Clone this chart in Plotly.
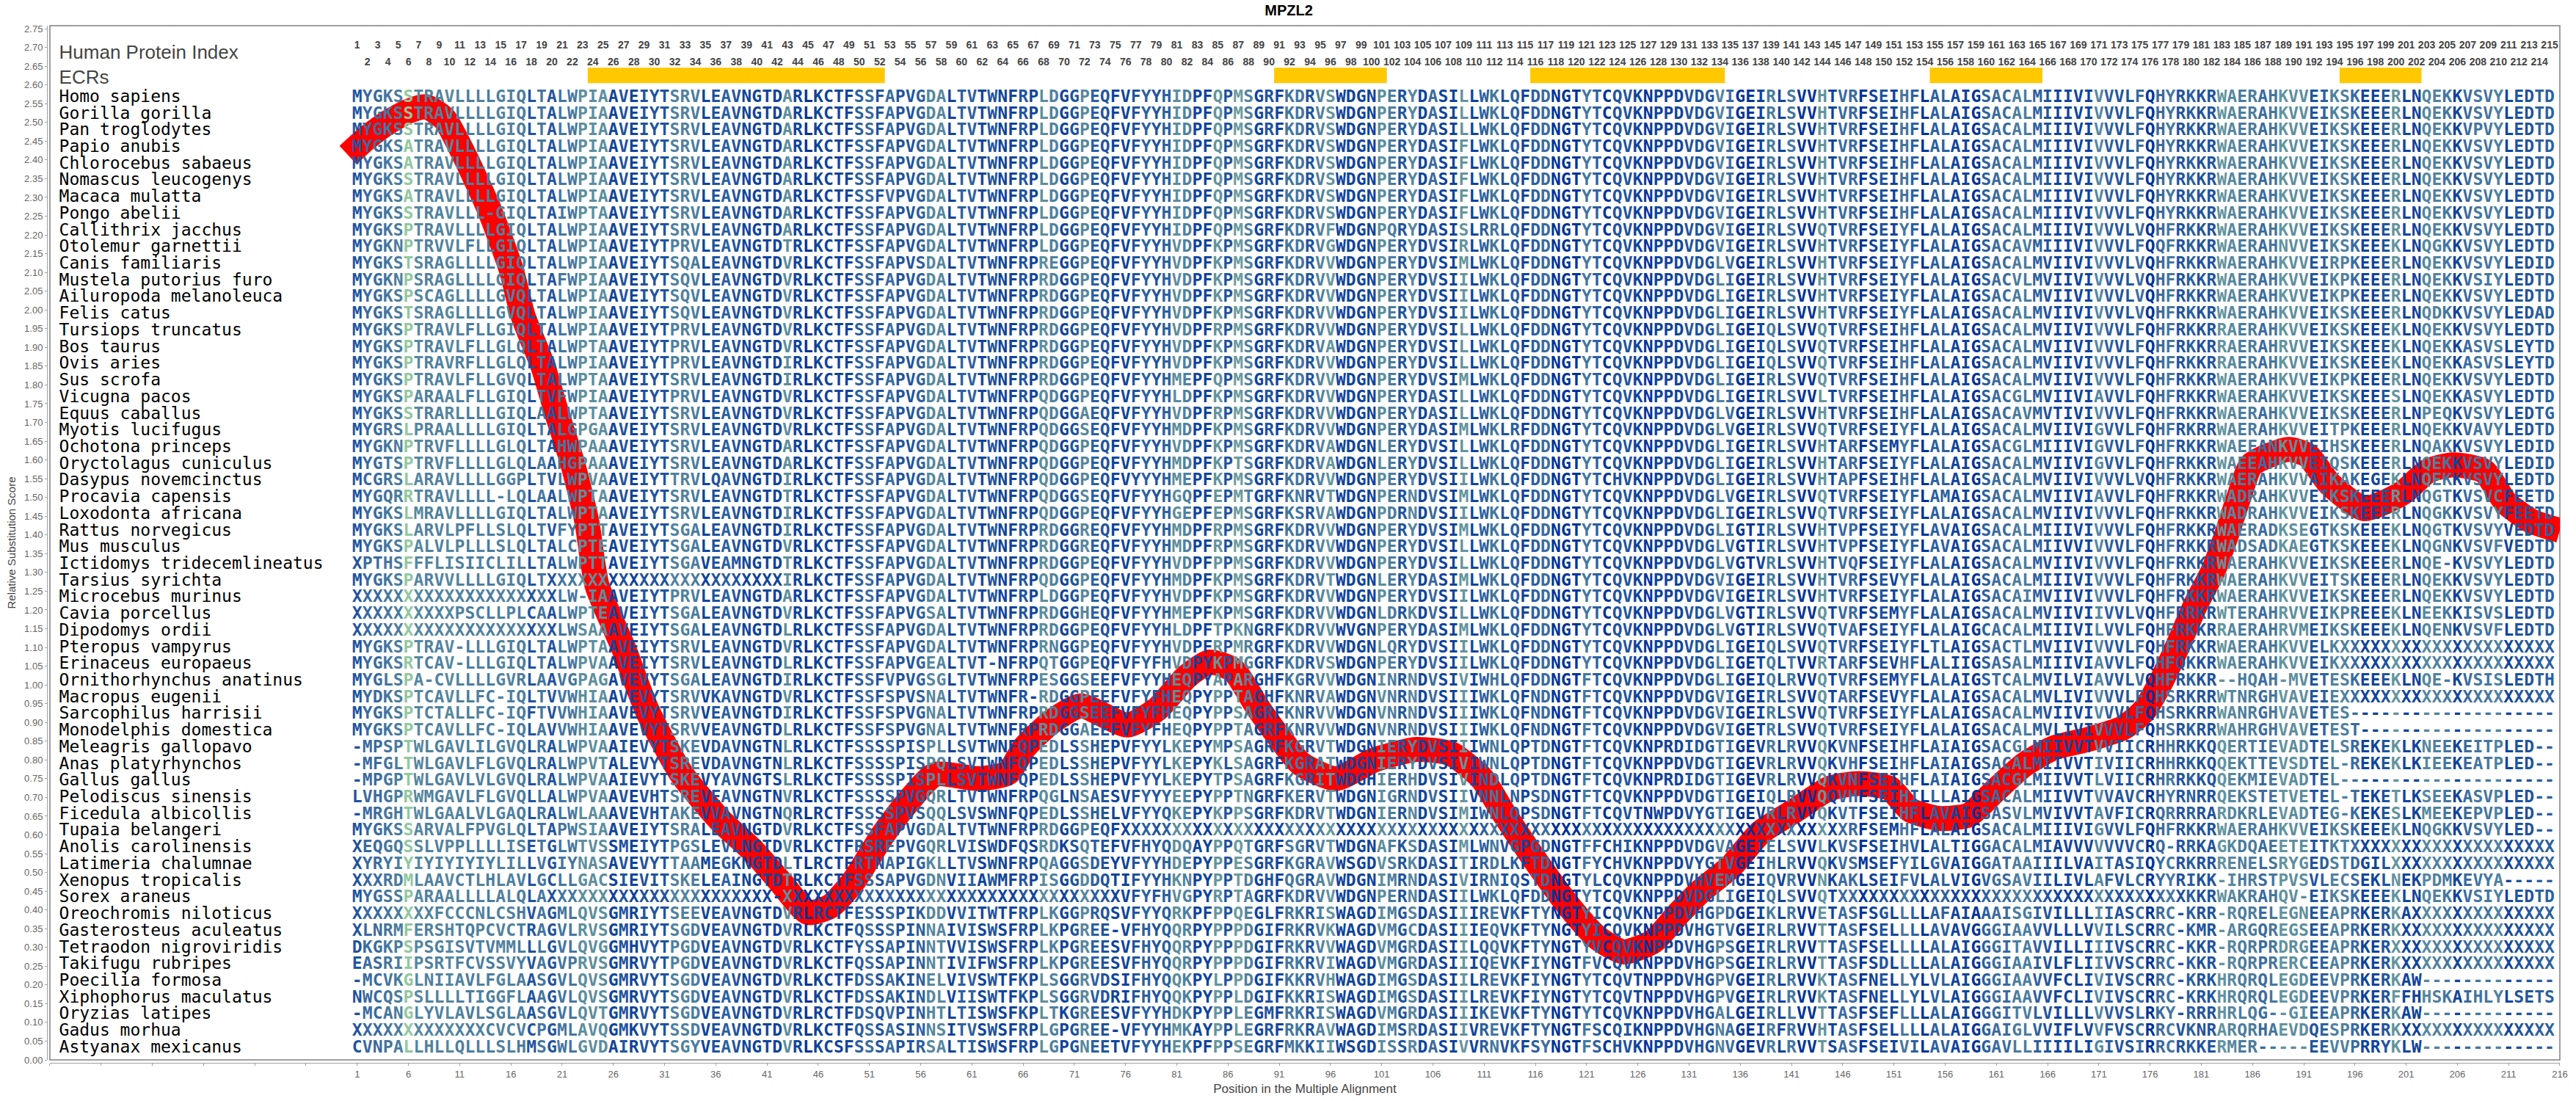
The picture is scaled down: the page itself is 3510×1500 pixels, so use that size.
"""MPZL2 multiple alignment with the relative substitution score drawn over it."""

import plotly.graph_objects as go

# === 資料 ===
SPECIES = [
    "Homo sapiens", "Gorilla gorilla", "Pan troglodytes", "Papio anubis", "Chlorocebus sabaeus",
    "Nomascus leucogenys", "Macaca mulatta", "Pongo abelii", "Callithrix jacchus", "Otolemur garnettii",
    "Canis familiaris", "Mustela putorius furo", "Ailuropoda melanoleuca", "Felis catus", "Tursiops truncatus",
    "Bos taurus", "Ovis aries", "Sus scrofa", "Vicugna pacos", "Equus caballus",
    "Myotis lucifugus", "Ochotona princeps", "Oryctolagus cuniculus", "Dasypus novemcinctus", "Procavia capensis",
    "Loxodonta africana", "Rattus norvegicus", "Mus musculus", "Ictidomys tridecemlineatus", "Tarsius syrichta",
    "Microcebus murinus", "Cavia porcellus", "Dipodomys ordii", "Pteropus vampyrus", "Erinaceus europaeus",
    "Ornithorhynchus anatinus", "Macropus eugenii", "Sarcophilus harrisii", "Monodelphis domestica", "Meleagris gallopavo",
    "Anas platyrhynchos", "Gallus gallus", "Pelodiscus sinensis", "Ficedula albicollis", "Tupaia belangeri",
    "Anolis carolinensis", "Latimeria chalumnae", "Xenopus tropicalis", "Sorex araneus", "Oreochromis niloticus",
    "Gasterosteus aculeatus", "Tetraodon nigroviridis", "Takifugu rubripes", "Poecilia formosa", "Xiphophorus maculatus",
    "Oryzias latipes", "Gadus morhua", "Astyanax mexicanus",
]

# columns 1-22
SEQ_HEAD = [
    "MYGKSSTRAVLLLLGIQLTALW", "MYGKSSTRAVLLLLGIQLTALW", "MYGKSSTRAVLLLLGIQLTALW", "MYGKSATRAVLLLLGIQLTALW",
    "MYGKSATRAVLLLLGIQLTALW", "MYGKSSTRAVLLLLGIQLTALW", "MYGKSATRAVLLLLGIQLTALW", "MYGKSSTRAVLLL-GIQLTAIW",
    "MYGKSPTRAVLLLLGIQLTALW", "MYGKNPTRVVLFLLGIQLTALW", "MYGKSTSRAGLLLLGIQLTALW", "MYGKNPSRAGLLLLGIQLTAFW",
    "MYGKSPSCAGLLLLGVQLTALW", "MYGKSTSRAGLLLLGVQLTALW", "MYGKSPTRAVLFLLGIQLTALW", "MYGKSPTRAVLFLLGLQLTALW",
    "MYGKSPTRAVRFLLGLQLTALW", "MYGKSPTRAVLFLLGVQLTALW", "MYGKSPARAALFLLGIQLTVFW", "MYGKSSTRARLLLLGIQLAALW",
    "MYGRSLPRAALLLLGIQLTALG", "MYGKNPTRVFLLLLGLQLTAHW", "MYGTSPTRVFLLLLGLQLAAHG", "MCGRSLARAVLLLLGGPLTVLW",
    "MYGQRRTRAVLLLL-LQLAALW", "MYGKSLMRAVLLLLGIQLTALW", "MYGKSLARVLPFLLSLQLTVFY", "MYGKSPALVLPLLLSLQLTALC",
    "XPTHSFFFLISIICLILLTALW", "MYGKSPARVVLLLLGIQLTXXX", "X" * 20 + "LW", "X" * 10 + "PSCLLPLCAALW",
    "X" * 20 + "LW", "MYGKSPTRAV-LLLGIQLTALW", "MYGKSRTCAV-LLLGIQLTALW", "MYGLSPA-CVLLLLGVRLAAVG",
    "MYDKSPTCAVLLFC-IQLTVVW", "MYGKSPTCTALLFC-IQFTVVW", "MYGKSPTCAVLLFC-IQLAVVW", "-MPSPTWLGAVLILGVQLRALW",
    "-MFGLTWLGAVLFLGVQLRALW", "-MPGPTWLGAVLVLGVQLRALW", "LVHGPRWMGAVLFLGVQLLALW", "-MRGHTWLGAALVLGAQLRALW",
    "MYGKSSARVALFPVGLQLTAPW", "XEQGQSSLVPPLLLLISETGLW", "XYRYIYIYIYIYIYLILLVGIY", "XXXRDMLAAVCTLHLAVLGCLL",
    "MYGSSPARAALLLLALQLAXXX", "XXXXXXXXFCCCNLCSHVAGML", "XLNRMFERSHTQPCVCTRAGVL", "DKGKPSPSGISVTVMMLLLGVL",
    "EASRIIPSRTFCVSSVYVAGVP", "-MCVKGLNIIAVLFGLAASGVL", "NWCQSPSLLLLTIGGFLAAGVL", "-MCANGLYVLAVLSGLAASGVL",
    "X" * 13 + "CVCVCPGML", "CVNPALLHLLQLLLSLHMSGWL",
]

# columns 23-86
SEQ_LEFT = [
    "PIAAVEIYTSRVLEAVNGTDARLKCTFSSFAPVGDALTVTWNFRPLDGGPEQFVFYYHIDPFQP",
    "PIAAVEIYTSRVLEAVNGTDARLKCTFSSFAPVGDALTVTWNFRPLDGGPEQFVFYYHIDPFQP",
    "PIAAVEIYTSRVLEAVNGTDARLKCTFSSFAPVGDALTVTWNFRPLDGGPEQFVFYYHIDPFQP",
    "PIAAVEIYTSRVLEAVNGTDARLKCTFSSFAPVGDALTVTWNFRPLDGGPEQFVFYYHIDPFQP",
    "PIAAVEIYTSRVLEAVNGTDARLKCTFSSFAPVGDALTVTWNFRPLDGGPEQFVFYYHIDPFQP",
    "PIAAVEIYTSRVLEAVNGTDARLKCTFSSFAPVGDALTVTWNFRPLDGGPEQFVFYYHIDPFQP",
    "PIAAVEIYTSRVLEAVNGTDARLKCTFSSFVPVGDALTVTWNFRPLDGGPEQFVFYYHIDPFQP",
    "PTAAVEIYTSRVLEAVNGTDARLKCTFSSFAPVGDALTVTWNFRPLDGGPEQFVFYYHIDPFQP",
    "PIAAVEIYTSRVLEAVNGTDARLKCTFSSFAPVGDALTVTWNFRPLDGGPEQFVFYYHIDPFQP",
    "PIAAVEIYTPRVLEAVNGTDTRLKCTFSSFAPVGDALTVTWNFRPLDGGPEQFVFYYHVDPFKP",
    "PIAAVEIYTSQALEAVNGTDVRLKCTFSSFAPVSDALTVTWNFRPREGGPEQFVFYYHVDPFKP",
    "PIAAVEIYTSQVLEAVNGTDVRLKCTFSSFAPVGDALTVTWNFRPRDGGPEQFVFYYHVDPFKP",
    "PIAAVEIYTSQVLEAVNGTDVRLKCTFSSFAPVGDALTVTWNFRPRDGGPEQFVFYYHVDPFKP",
    "PIAAVEIYTSQVLEAVNGTDVRLKCTFSSFAPVGDALTVTWNFRPRDGGPEQFVFYYHVDPFKP",
    "PIAAVEIYTPRVLEAVNGTDVRLKCTFSSFAPVGDALTVTWNFRPRDGGPEQFVFYYHVDPFRP",
    "PTAAVEIYTPRVLEAVNGTDVRLKCTFSSFAPVGDALTVTWNFRPRDGGPEQFVFYYHVDPFKP",
    "PIAAVEIYTPRVLEAVNGTDIRLKCTFSSFAPVGDALTVTWNFRPRDGGPEQFVFYYHVDPFKP",
    "PTAAVEIYTSRVLEAVNGTDIRLKCTFSSFAPVGDALTVTWNFRPRDGGPEQFVFYYHMEPFQP",
    "PIAAVEIYTPRVLEAVNGTDVRLKCTFSSFAPVGDALTVTWNFRPQDGGPEQFVFYYHLDPFKP",
    "PTAAVEIYTSRVLEAVNGTDVRLKCTFSSFAPVGDALTVTWNFRPQDGGAEQFVFYYHVDPFRP",
    "PGAAVEIYTSRVLEAVNGTDVRLKCTFSSFAPVGDALTVTWNFRPQDGGSEQFVFYYHMDPFKP",
    "PAAAVEIYTSRVLEAVNGTDARLKCTFSSFAPVGDALTVTWNFRPQDGGPEQFVFYYHVDPFKP",
    "PAAAVEIYTSRVLEAVNGTDARLKCTFSSFAPVGDALTVTWNFRPQDGGPEQFVFYYHMDPFKP",
    "PVAAVEIYTTRVLQAVNGTDIRLKCTFSSFAPVGDALTVTWNFRPQDGGPEQFVYYYHMEPFKP",
    "PTAAVEIYTSRVLEAVNGTDTRLKCTFSSFAPVGDALTVTWNFRPQDGGSEQFVFYYHGQPFEP",
    "PTAAVEIYTSRVLEAVNGTDIRLKCTFSSFAPVGDALTVTWNFRPQDGGPEQFVFYYHGEPFEP",
    "PTTAVEIYTSGALEAVNGTDIRLKCTFSSFAPVGDALTVTWNFRPRDGGREQFVFYYHMDPFRP",
    "PTEAVEIYTSGALEAVNGTDVRLKCTFSSFAPVGDALTVTWNFRPRDGGREQFVFYYHMDPFRP",
    "PTTAVEIYTSGAVEAMNGTDTRLKCTFSSFAPVGDALTVTWNFRPRDGGPEQFVFYYHVDPFPP",
    "X" * 20 + "IRLKCTFSSFAPVGDALTVTWNFRPQDGGPEQFVFYYHMDPFKP",
    "-IAAVEIYTPRVLEAVNGTDARLKCTFSSFAPVGDALTVTWNFRPLDGGPEQFVFYYHVDPFKP",
    "PTEAVEIYTSGALEAVNGTDVRLKCTFSSFAPVGSALTVTWNFRPRDGGHEQFVFYYHMEPFKP",
    "SAAAVEIYTSGALEAVNGTDLRLKCTFSSFAPVGDALTVTWNFRPRDGGPEQFVFYYHLDPFTP",
    "PTAAVEIYTSRVLEAVNGTDVRLKCTFSSFAPVGDALTVTWNFRPRNGGPEQFVFYYHVDPFRP",
    "PVAAVEIYTSRVLEAVNGTDLRLKCTFSSFAPVGEALTVT-NFRPQTGGPEQFVFYFHVDPYKP",
    "PAGAVEVYTSGALEAVNGTDIRLKCTFSSFVPVGSGLTVTWNFRPESGGSEEFVFYYHEQPYAP",
    "HIAAVEVYTSRVVKAVNGTDVRLKCTFSSFSPVSNALTVTWNFR-RDGGPEEFVFYFHEQPYPP",
    "HIAAVEVYTSRVVEAVNGTDIRLKCTFSSFSPVGNALTVTWNFRPRDGGSEEFVFYFHEQPYPP",
    "HIAAVEVYTSRVVEAVNGTDLRLKCTFSSFSPVGNALTVTWNFRPRDGGAEEFVFYFHEQPYPP",
    "PVAAIEVYTSKEVDAVNGTNLRLKCTFSSSSPISPLLSVTWNFQPEDLSSHEPVFYYLKEPYMP",
    "PVTALEVYTSREVDAVNGTNLRLKCTFSSSSPISPQLSVTWNFQPEDLSSHEPVFYYLKEPYKL",
    "PVAAIEVYTSKEVYAVNGTSLRLKCTFSSSSPISPLLSVTWNFQPEDLSSHEPVFYYLKEPYTP",
    "PVAAVEVHTSREVEAVNGTNVRLKCTFSSSSPVGQRLTVTWNFRPQGLNSAESVFYYYEEPYPP",
    "LAAAVEVHTAKEVVAVNGTNQRLRCTFSSSSPVSQQLSVSWNFQPEDLSSHELVFYYQKEPYKP",
    "SIAAVEIYTSRALEAVNGTDVRLKCTFSSFAPVGDALTVTWNFRPRDGGPEQF" + "X" * 11,
    "TVSSMEIYTPGSLEVLNGTDVRLKCTFRSREPVGQRLVISWDFQSRDKSQTEFVFHYQDQAYPP",
    "NASAVEVYTTAAMEGKNGTDLTLRCTFRTNAPIGKLLTVSWNFRPQAGGSDEYVFYYHDEPYPP",
    "GACSIEVITSKELEAINGTDTRLKCTFSSSAPVGDNVIIAWMFRPISGGDDQTIFYYHKNPYPP",
    "X" * 19 + "-" + "X" * 33 + "VFYFHVGPYRP",
    "QVSGMRIYTSEEVEAVNGTDVRLRCTFESSSPIKDDVVITWTFRPLKGGPRQSVFYYQRKPFPP",
    "RVSGMRIYTSGDVEAVNGTDVRLKCTFQSSSPINNAIVISWSFRPLKPGREE-VFHYQQRPYPP",
    "QVGGMHVYTPGDVEAVNGTDVRLKCTFYSSAPINNTVVISWSFRPLKPGREESVFHYQQRPYPP",
    "RVSGMRVYTPGDVEAVNGTDVRLKCTFQSSAPINNTIVIFWSFRPLKPGREESVFHYQQRPYPP",
    "QVSGMRVYTSGDVEAVNGTDVRLKCTFDSSAKINELVIVSWTFKPLSGGRVDSIFHYQQKPYLP",
    "QVSGMRVYTSGDVEAVNGTDVRLKCTFDSSAKINDLVIISWTFKPLSGGRVDRIFHYQQKPYPP",
    "QVTGMRVYTSGDVEAVNGTDVRLRCTFDSQVPINHTLTISWSFKPLTKGREESVFYYHDKPYPP",
    "AVQGMKVYTSSDVEAVNGTDVRLKCTFQSSASINNSITVSWSFRPLGPGREE-VFYYHMKAYPP",
    "GVDAIRVYTSGYVEAVNGTDVRLKCSFSSSAPIRSALTISWSFRPLGPGNEETVFYYHEKPFPP",
]

# columns 87-150
SEQ_RIGHT = [
    "MSGRFKDRVSWDGNPERYDASILLWKLQFDDNGTYTCQVKNPPDVDGVIGEIRLSVVHTVRFSE",
    "MSGRFKDRVSWDGNPERYDASILLWKLQFDDNGTYTCQVKNPPDVDGVIGEIRLSVVHTVRFSE",
    "MSGRFKDRVSWDGNPERYDASILLWKLQFDDNGTYTCQVKNPPDVDGVIGEIRLSVVHTVRFSE",
    "MSGRFKDRVSWDGNPERYDASIFLWKLQFDDNGTYTCQVKNPPDVDGVIGEIRLSVVHTVRFSE",
    "MSGRFKDRVSWDGNPERYDASIFLWKLQFDDNGTYTCQVKNPPDVDGVIGEIRLSVVHTVRFSE",
    "MSGRFKDRVSWDGNPERYDASIFLWKLQFDDNGTYTCQVKNPPDVDGVIGEIRLSVVHTVRFSE",
    "MSGRFKDRVSWDGNPERYDASIFLWKLQFDDNGTYTCQVKNPPDVDGVIGEIRLSVVHTVRFSE",
    "MSGRFKDRVSWDGNPERYDASIFLWKLQFDDNGTYTCQVKNPPDVDGVIGEIRLSVVHTVRFSE",
    "MSGRFKDRVFWDGNPQRYDASISLRRLQFDDNGTYTCQVKNPPDVDGVIGEIRLSVVQTVRFSE",
    "MSGRFKDRVGWDGNPERYDVSIRLWKLQFDDNGTYTCQVKNPPDVDGVIGEIRLSVVHTVRFSE",
    "MSGRFKDRVVWDGNPERYDVSIMLWKLQFDDNGTYTCQVKNPPDVDGLVGEIRLSVVHTVRFSE",
    "MSGRFKDRVVWDGNPERYDVSIILWKLQFDDNGTYTCQVKNPPDVDGLIGEIRLSVVHTVRFSE",
    "MSGRFKDRVVWDGNPERYDVSIILWKLQFDDNGTYTCQVKNPPDVDGLIGEIRLSVVHTVRFSE",
    "MSGRFKDRVVWDGNPERYDVSIILWKLQFDDNGTYTCQVKNPPDVDGLIGEIRLSVVHTVRFSE",
    "MSGRFKDRVVWDGNPERYDVSILLWKLQFDDNGTYTCQVKNPPDVDGLIGEIQLSVVQTVRFSE",
    "MSGRFKDRVAWDGNPERYDVSILLWKLQFDDNGTYTCQVKNPPDVDGLIGEIQLSVVQTVRFSE",
    "MSGRFKDRVVWDGNPERYDVSILLWKLQFDDNGTYTCQVKNPPDVDGLIGEIQLSVVQTVRFSE",
    "MSGRFKDRVVWDGNPERYDVSIMLWKLQFDDNGTYTCQVKNPPDVDGLIGEIRLSVVQTVRFSE",
    "MSGRFKDRVVWDGNPERYDASILLWKLQFDDNGTYTCQVKNPPDVDGLIGEIRLSVVLTVRFSE",
    "MSGRFKDRVVWDGNPERYDASILLWKLQFDDNGTYTCQVKNPPDVDGLVGEIRLSVVHTVRFSE",
    "MSGRFKDRVVWDGNPERYDASIMLWKLRFDDNGTYTCQVKNPPDVDGLVGEIRLSVVQTVRFSE",
    "MSGRFKDRVAWDGNLERYDVSILLWKLQFDDNGTYTCQVKNPPDVDGLIGEIRLSVVHTARFSE",
    "TSGRFKDRVAWDGNLERYDVSILLWKLQFDDNGTYTCQVKNPPDVDGLIGEIRLSVVHTARFSE",
    "MSGRFKDRVVWDGNPERYDVSIILWKLQFDDNGTYTCHVKNPPDVDGLIGEIRLSVVHTAPFSE",
    "MTGRFKNRVTWDGNPERNDVSIMLWKLQFDDNGTYTCQVKNPPDVDGLVGEIRLSVVQTVRFSE",
    "MSGRFKSRVAWDGNPDRNDVSIILWKLQFDDNGTYTCQVKNPPDVDGLIGEIRLSVVQTVRFSE",
    "MSGRFKDRVVWDGNPERYDVSIMLWKLQFDDNGTYTCQVKNPPDVDGLIGTIRLSVVHTVPFSE",
    "MSGRFKDRVVWDGNPERYDVSILLWKLQFDDNGTYTCQVKNPPDVDGLVGTIRLSVVHTVPFSE",
    "MSGRFKDRVVWDGNPERYDVSILLWKLQFDDNGTYTCQVKNPPDVDGLVGTVRLSVVHTVQFSE",
    "MSGRFKDRVTWDGNLERYDASIMLWKLQFDDNGTYTCQVKNPPDVDGVIGEIRLSVVHTVRFSE",
    "MSGRFKDRVVWDGNPERYDVSIILWKLQFDDNGTYTCQVKNPPDVDGVIGEIRLSVVHTVRFSE",
    "MSGRFKDRVVWDGNLDRKDVSILLWKLQFDDNGTYTCQVKNPPDVDGLVGTIRLSVVQTVRFSE",
    "KNGRFKDRVVWVGNPERYDASIMLWKLQFDDNGTYTCQVKNPPDVDGLVGTIRLSVVQTVAFSE",
    "MRGRFKDRVVWDGNLQRYDVSIILWKLQFDDNGTYTCQVKNPPDVDGLIGEIQLSVVQTVRFSE",
    "MGGRFKDRVSWDGNPERYDVSIILWKLQFDDNGTYTCQVKNPPDVDGLIGETQLTVVRTARFSE",
    "ARGHFKGRVVWDGNINRNDVSIVIWHLQFDDNGTFTCQVKNPPDVDGLIGEIQLRVVQTVRFSE",
    "TAGHFKNRVAWDGNVNRNDVSIIIWKLQFNDNGTFTCQVKNPPDVDGVIGEIRLSVVQTARFSE",
    "SAGRFKNRVVWDGNVNRNDVSIIIWKLQFNDNGTFTCQVKNPPDVDGVIGEIRLSVVQTVRFSE",
    "TAGRFKNRVVWDGNVNRNDVSIIIWKLQFNDNGTFTCQVKNPPDVDGVIGETRLSVVQTVRFSE",
    "SAGRFKGRVTWDGNIERYDVSIIIWNLQPTDNGTFTCQVKNPRDIDGTIGEVRLRVVQKVNFSE",
    "SAGRFKGRATWDGNIERYDVSIVIWNLQPTDNGTFTCQVKNPPDVDGTIGEVRLRVVQKVHFSE",
    "SAGRFKGRITWDGHIERHDVSIVINDLQPTDNGTFTCQVKNPRDIDGTIGEVRLRVVQKVNFSE",
    "TNGRFKERVTWDGNIGRNDVSIIVNNLNPSDNGTFTCQVKNPPDVDGTIGEIQLRVVQQVHFSE",
    "PSGRFKDRVTWDGNIERNDVSIMIWNLQPSDNGTFTCQVTNWPDVYGTIGEVRLRVVQKVTFSE",
    "X" * 60 + "RFSE",
    "QTGRFSGRVTWDGNAFKSDASIMLWNVGPGDNGTFFCHIKNPPDVDGVAGEIELSVVLKVSFSE",
    "ESGRFKGRAVWSGDVSRKDASITIRDLKFTDNGTFYCHVKNPPDVYGTVGEIHLRVVQKVSMSE",
    "TDGHFQGRAVWDGNIMRNDASIVIRNIQSTDNGTYLCQVKNPPDVHVEMGEIQVRVVNKAKLSE",
    "TAGRFKDRVVWDGNPERNDASIILWKLQFDDNGTYTCQVKNPPDVDGLIGEIQLSVVQT" + "X" * 5,
    "QEGLFRKRISWAGDIMGSDASIIIREVKFTYNGTYICQVKNPPDVHGPDGEIKLRVVETASFSG",
    "PDGIFRKRVKWAGDVMGCDASIIIEQVKFTYNGTYICQVKNPPDVHGTVGEIRLRVVTTASFSE",
    "PDGIFRKRVVWAGDVMGRDASIILQQVKFTYNGTYVCQVKNPPDVHGPSGEIRLRVVTTASFSE",
    "PDGIFRKRVIWAGDVMGRDASIIIQEVKFIYNGTFVCQVKNPPDVHGPSGEIRLRVVTTASFSD",
    "PDGIFKKRVHWAGDIMGSDASIILREVKFIYNGTYTCQVTNPPDVHGPVGEIRLRVVKTASFNE",
    "LDGIFKKRISWAGDIMGSDASIILREVKFIYNGTYTCQVTNPPDVHGPVGEIRLRVVKTASFNE",
    "LEGMFRKRISWAGDVMGRDASIIIKEVKFTYNGTYTCQVKNPPDVHGALGEIRLLVVTTASFSE",
    "LEGRFRKRAVWAGDIMSRDASIIVREVKFTYNGTFSCQIKNPPDVHGNAGEIRFRVVHTASFSE",
    "SEGRFMKKIIWSGDISSRDASIVVRNVKFSYNGTFSCHVKNPPDVHGNVGEVRLRVVTSASFSE",
]

# columns 151-215
SEQ_TAIL = [
    "IHFLALAIGSACALMIIIVIVVVLFQHYRKKRWAERAHKVVEIKSKEEERLNQEKKVSVYLEDTD",
    "IHFLALAIGSACALMIIIVIVVVLFQHYRKKRWAERAHKVVEIKSKEEERLNQEKKVSVYLEDTD",
    "IHFLALAIGSACALMIIIVIVVVLFQHYRKKRWAERAHKVVEIKSKEEERLNQEKKVPVYLEDTD",
    "IHFLALAIGSACALMIIIVIVVVLFQHYRKKRWAERAHKVVEIKSKEEERLNQEKKVSVYLEDTD",
    "IHFLALAIGSACALMIIIVIVVVLFQHYRKKRWAERAHKVVEIKSKEEERLNQEKKVSVYLEDTD",
    "IHFLALAIGSACALMIIIVIVVVLFQHYRKKRWAERAHKVVEIKSKEEERLNQEKKVSVYLEDTD",
    "IHFLALAIGSACALMIIIVIVVVLFQHYRKKRWAERAHKVVEIKSKEEERLNQEKKVSVYLEDTD",
    "IHFLALAIGSACALMIIIVIVVVLFQHYRKKRWAERAHKVVEIKSKEEERLNQEKKVSVYLEDTD",
    "IYFLALAIGSACALMIIIVIVVVLVQHFRKKRWAERAHKVVEIKSKEEERLNQEKKVSVYLEDTD",
    "IYFLALAIGSACAVMIIIVIVVVLFQQFRKKRWAERAHNVVEIKSKEEEKLNQGKKVSVYLEDTD",
    "IYFLALAIGSACALMVIIVIVVVLVQHFRKKRWAERAHKVVEIRPKEEERLNQEKKVSVYLEDID",
    "IYFLALAIGSACVLMVIIVIVVVLVQHFRKKRWAERAHKVVEIKPKEEERLNQEKKVSIYLEDTD",
    "IYFLALAIGSACALMVIIVIVVVLVQHFRKKRWAERAHKVVEIKPKEEERLNQEKKVSVYLEDTD",
    "IYFLALAIGSACALMVIIVIVVVLVQHFRKKRWAERAHKVVEIKSKEEERLNQDKKVSVYLEDAD",
    "IHFLALAIGSACALMVIIVIVVVLFQHFRKKRRAERAHKVVEIKSKEEEKLNQEKKVSVYLEDTD",
    "IHFLALAIGSACALMVIIVIVVVLFQHFRKKRRAERAHRVVEIKSKEEEKLNQEKKASVSLEYTD",
    "IHFLALAIGSACALMVIIVIVVVLFQHFRKKRRAERAHKVVEIKSKEEEKLNQEKKASVSLEYTD",
    "IHFLALAIGSACALMVIIVIVVVLFQHFRKKRWAERAHKVVEIKPKEEERLNQEKKVSVYLEDTD",
    "IHFLALAIGSACGLMVIIVIAVVLFQHFRKKRWAERAHKVVEIKSKEEESLNQEKKASVYLEDTD",
    "IHFLALAIGSACAVMVTIVIVVVLFQHFRKKRWAERAHKVVEIKSKEEERLNPEQKVSVYLEDTG",
    "IYFLALAIGSACALMVIIVIGVVLFQHFRKRRWAERAHKVVEITPKEEERLNQEKKVAVYLEDTD",
    "MYFLALAIGSACGLMIIIVIGVVLFQHFRKKRWAEEANKVVEIHSKEEERLNQAKKVSVYLEDID",
    "IYFLALAIGSACALMVIIVIGVVLFQHFRKKRWAEEAHKVVEIQSKEEERLNQEKKVSVYLEDID",
    "IHFLALAIGSACALMVIIVIVVVLVQHFRKKRWAERAHKVVAIKAKEGEKLNQEKKVSVYLEDTD",
    "IYFLAMAIGSACALMVIIVIAVVLFQHFRKKRWADRAHKVVEIKSKEEERLNQGTKVSVCFEETD",
    "IYFLALAIGSACALMVIIVIVVVLFQHFRKKRWADRAHKVVEIKSKEEERLNQGKKVSVYFEETD",
    "IYFLAVAIGSACALMIIIVIVVVLFQHFRKKRWAERADKSEGTKSKEEEKLNQGTKVSVYVEDTD",
    "IYFLAVAIGSACALMIIVVIVVVLFQHFRKKRWADSADKAEGTKSKEEEKLNQGNKVSVFVEDTD",
    "IYFLALAIGSACALMVIIVIVVVLFQHFRKKRWAERAHKVVEIKSKEEERLNQE-KVSVYLEDTD",
    "VYFLALAIGSACALMIIIVIVVVLFQHFRKKRWAERAHKVVEITSKEEERLNQEKKVSVYLEDTD",
    "IYFLALAIGSACAIMVIIVIVVVLFQHFRKKRWAERAHKVVEIKSKEEERLNQEKKVSVYLEDTD",
    "MYFLALAIGSACALMVIIVIIVVLVQHFRRKRWTERAHRVVEIKPREEEKLNEEKKISVSLEDTD",
    "IYFLALAIGCACALMIIIVILVVLFQHFRKKRRAERAHRVMEIKSKEEEKLNQENKVSVFLEDTD",
    "IYFLTLAIGSACTLMVIIVIVVVLFQHFRKKRWAERAHKVVELK" + "X" * 21,
    "VHFLALIIGSASALMIIIVIAVVLFQHFQKKRWAERAHKVVEIK" + "X" * 21,
    "MYFLALAIGSTCALMVILVIAVVLVQHFRKKR--HQAH-MVETESKEEEKLNQE-KVSISLEDTH",
    "VYFLALAIGSACALMVLIVIVVVLFQHSRKRRWTNRGHVAVEIE" + "X" * 21,
    "IYFLALAIGSACALMVIIVIVVVLFQHSRKRRWANRGHVAVETES" + "-" * 20,
    "IYFLALAIGSACALMVLIVIVVVLFQHSRKRRWAHRGHVAVETEST" + "-" * 19,
    "IHFLAIAIGSACGLMIIVVTVVIICRHHRKKQQERTIEVADTELSREKEKLKNEEKEITPLED--",
    "IHFLAIAIGSACALMIIVVTIVIICRHHRKKQQEKTTEVSDTEL-REKEKLKIEEKEATPLED--",
    "IHFLAIAIGSACGLMIIVVTLVIICRHRRKKQQEKMIEVADTEL" + "-" * 21,
    "IHILLLAIGSACALMIIVVTVVAVCRHYRNRRQEKSTETVETEL-TEKETLKSEEKASVPLED--",
    "IHFLAVAIGSASVLMVIVVTAVFICRQRRRRARDKRLEVADTEG-KEKESLKMEEKEPVPLED--",
    "MHFLALAIGSACALMIIIVIGVVLFQHFRKKRWAERAHKVVEIKSKEEEKLNQGKKVSVYLED--",
    "IHVLALTIGGACALMIAVVVVVVVCRQ-RRKAGKDQAEETEITKT" + "X" * 20,
    "FYILGVAIGGATAAIIILVAITASIQYCRKRRRENELSRYGEDSTDGIL" + "X" * 16,
    "IFVLALVIGVGSAVIILIVLAFVLCRYYRIKK-IHRSTPVSVLECSEKLNEKPDMKEVYA-----",
    "X" * 29 + "KKRWAKRAHQV-EIKSKEEEKLNQEKKVSIYLEDTD",
    "LLLLAFAIAAAISGIVILLLIIASCRRC-KRR-RQRELEGNEEAPRKERKA" + "X" * 14,
    "LLLLAVAVGGGIAAVVLLLVVILSCRRC-KMR-ARGQREGSEEAPRKERK" + "X" * 15,
    "LLLLALAIGGGITAVVILLIIIVSCRRC-KKR-RQRPRDRGEEAPRKER" + "X" * 16,
    "LLLLALAIGGGIAAIVLFLIIVVSCRRC-KKR-RQRPRERCEEAPRKERK" + "X" * 15,
    "LLYLVLAIGGGIAAVVFCLIVIVSCRRC-KRKHRQRQLEGDEEVPRKERKAW" + "-" * 13,
    "LLYLVLAIGGGIAAVVFCLIVIVSCRRC-KRKHRQRQLEGDEEVPRKERFFHHSKAIHLYLSETS",
    "FLLLALAIGGGITVLVILLLVVVSLRKY-RRRHRLQG--GIEEAPRKERKAW" + "-" * 13,
    "LLLLALAIGGAIGLVVIFLVVFVSCRRCVKNRARQRHAEVDQESPRKERK" + "X" * 15,
    "IVILAVAIGGAVLLIIIILIGIVSIRRCRKKERMER-----EEVVPRRYKLW" + "-" * 13,
]

# 每欄保留度 (0 = 最淺, 9 = 最深)
COLUMN_LEVEL = [
    7, 5, 5, 4, 3.5, 0, 2.5, 3, 3, 2.5, 3, 3.5, 3, 3.5, 3, 3, 3.5, 7, 4, 7, 4, 4,
    2, 2, 2, 8, 7, 8, 7, 7, 7, 3, 3, 3.5, 8, 7, 6, 7, 8, 8, 8, 8, 2, 8, 9, 8, 8, 8, 8, 6, 5, 7, 5, 7, 7, 6,
    2.5, 2.5, 8, 6, 6, 8, 7, 8, 8, 7, 8, 2, 3, 8, 7, 2.5, 6, 7, 8, 8, 7, 6, 7, 6, 2, 3, 8, 8, 1.5, 7,
    1, 3, 8, 7, 8, 4, 4, 7, 3, 1.5, 8, 8, 8, 8, 2, 3.5, 7, 2.5, 8, 5, 8, 8, 1.5, 8, 6, 4, 7, 6, 8, 6, 5, 9, 9, 9,
    4, 6, 9, 7, 7, 8, 9, 8, 8, 8, 7, 7, 7, 3, 5, 9, 9, 8, 3.5, 8, 4, 9, 9, 1.5, 8, 5, 5, 9, 8, 7,
    8, 4, 6, 9, 6, 6, 8, 8, 9, 6, 5, 5, 3.5, 3.5, 6, 7, 8, 8, 8, 8, 2.5, 6, 7, 7, 5, 9, 5, 4, 7, 6, 7, 7,
    1.5, 2.5, 3.5, 3.5, 5, 4, 1.5, 2, 2, 7, 6, 3, 3, 5, 8, 8, 7, 1.5, 8, 8, 2.5, 3, 4, 8, 5, 4, 4, 3, 8, 7, 7, 6, 6,
]

# ECR 區段 (起, 迄)
ECR_START = [24, 91, 116, 155, 195]
ECR_END = [52, 101, 134, 165, 202]

# 紅線 (位置, 分數)
LINE_POS = [
    0.1, 2.0, 4.0, 6.0, 7.7, 9.5, 11.5, 13.9, 16.0, 17.2, 19.1, 20.5, 22.0, 23.4, 24.4, 27.0, 29.3, 32.6, 36.4,
    39.7, 42.3, 45.0, 47.2, 49.4, 52.3, 54.6, 57.4, 61.6, 64.5, 66.1, 68.7, 71.6, 76.2, 79.1, 82.0, 84.2, 86.5,
    88.9, 91.1, 93.1, 96.5, 100.3, 104.4, 107.8, 110.8, 112.9, 116.2, 119.6, 122.1, 124.6, 127.5, 130.0, 132.1,
    135.1, 138.0, 141.4, 144.7, 147.6, 150.6, 152.6, 155.4, 158.3, 160.8, 163.7, 166.6, 170.0, 173.4, 175.4,
    177.1, 178.8, 180.5, 182.2, 183.4, 184.7, 185.9, 189.5, 191.4, 193.5, 196.9, 200.6, 203.1, 205.6, 208.6,
    210.7, 213.2, 216.0,
]
LINE_SCORE = [
    2.413, 2.46, 2.50, 2.53, 2.542, 2.51, 2.41, 2.267, 2.11, 1.983, 1.852, 1.723, 1.593, 1.437, 1.266, 1.098,
    0.932, 0.765, 0.64, 0.556, 0.475, 0.393, 0.41, 0.475, 0.60, 0.683, 0.761, 0.75, 0.765, 0.832, 0.90, 0.944,
    0.893, 0.936, 1.023, 1.061, 1.04, 0.94, 0.857, 0.79, 0.75, 0.80, 0.828, 0.816, 0.75, 0.658, 0.524, 0.399,
    0.325, 0.288, 0.316, 0.391, 0.449, 0.516, 0.607, 0.666, 0.724, 0.737, 0.724, 0.666, 0.644, 0.653, 0.716,
    0.787, 0.832, 0.855, 0.886, 0.931, 1.01, 1.11, 1.217, 1.307, 1.395, 1.503, 1.587, 1.628, 1.612, 1.537,
    1.47, 1.511, 1.57, 1.587, 1.57, 1.487, 1.437, 1.412,
]

# === 版面 ===
WIDTH = 3510
HEIGHT = 1500
FRAME = dict(left=68, right=3499, top=35, bottom=1450)
AXIS_OFFSET = 4
X_RANGE = [-29, 216]
Y_RANGE = [0, 2.758]
ROW_TOP = 2.566
ROW_STEP = 0.04447
INDEX_ODD_Y = 2.705
INDEX_EVEN_Y = 2.660
HEADER_Y = 2.683
ECR_LABEL_Y = 2.616
ECR_BASE = 2.605
ECR_HEIGHT = 0.041
LABEL_X = -28.1

MONO = "DejaVu Sans Mono"
SANS = "Liberation Sans"

LEVEL_STOPS = [
    (0, (144, 200, 160)),
    (1, (106, 154, 158)),
    (3, (79, 129, 159)),
    (5, (58, 107, 160)),
    (7, (31, 84, 159)),
    (9, (0, 51, 153)),
]


def level_to_color(level):
    """把保留度換成字母顏色"""
    for (lo, c0), (hi, c1) in zip(LEVEL_STOPS, LEVEL_STOPS[1:]):
        if level <= hi:
            t = (level - lo) / (hi - lo)
            rgb = [round(a + (b - a) * t) for a, b in zip(c0, c1)]
            return "rgb({},{},{})".format(*rgb)
    return "rgb(0,51,153)"


def check_lengths():
    for name, part, size in [("head", SEQ_HEAD, 22), ("left", SEQ_LEFT, 64),
                             ("right", SEQ_RIGHT, 64), ("tail", SEQ_TAIL, 65)]:
        bad = [(i, len(s)) for i, s in enumerate(part) if len(s) != size]
        if bad or len(part) != len(SPECIES):
            raise ValueError(f"{name}: {len(part)} rows, bad {bad}")
    if len(COLUMN_LEVEL) != 215:
        raise ValueError(f"levels: {len(COLUMN_LEVEL)}")
    if len(LINE_POS) != len(LINE_SCORE):
        raise ValueError(f"line: {len(LINE_POS)} {len(LINE_SCORE)}")


check_lengths()
SEQUENCES = [a + b + c + d for a, b, c, d in zip(SEQ_HEAD, SEQ_LEFT, SEQ_RIGHT, SEQ_TAIL)]
COLUMN_COLORS = [level_to_color(v) for v in COLUMN_LEVEL]
ROW_Y = [ROW_TOP - ROW_STEP * i for i in range(len(SPECIES))]

fig = go.Figure()

# ECR bars
fig.add_trace(go.Bar(
    x=[(a + b) / 2 for a, b in zip(ECR_START, ECR_END)],
    y=[ECR_HEIGHT] * len(ECR_START),
    base=ECR_BASE,
    width=[b - a + 1 for a, b in zip(ECR_START, ECR_END)],
    marker=dict(color="#FFC800", line=dict(width=0)),
    hoverinfo="skip",
))

# 紅線在字母下面
fig.add_trace(go.Scatter(
    x=LINE_POS,
    y=LINE_SCORE,
    mode="lines",
    line=dict(color="#FF0000", width=34, shape="spline", smoothing=0.6),
    hoverinfo="skip",
))

# alignment letters
letter_x, letter_y, letter_text, letter_color = [], [], [], []
for y, seq in zip(ROW_Y, SEQUENCES):
    for col, ch in enumerate(seq):
        letter_x.append(col + 1)
        letter_y.append(y)
        letter_text.append(ch)
        letter_color.append(COLUMN_COLORS[col])
fig.add_trace(go.Scatter(
    x=letter_x,
    y=letter_y,
    mode="text",
    text=letter_text,
    textposition="middle center",
    textfont=dict(family=MONO, size=23, color=letter_color, weight="bold"),
    hoverinfo="skip",
))

# species names
fig.add_trace(go.Scatter(
    x=[LABEL_X] * len(SPECIES),
    y=ROW_Y,
    mode="text",
    text=SPECIES,
    textposition="middle right",
    textfont=dict(family=MONO, size=23, color="#000000"),
    hoverinfo="skip",
))

# index row above the alignment
index_pos = list(range(1, 216))
fig.add_trace(go.Scatter(
    x=index_pos,
    y=[INDEX_ODD_Y if p % 2 else INDEX_EVEN_Y for p in index_pos],
    mode="text",
    text=[str(p) for p in index_pos],
    textposition="middle center",
    textfont=dict(family=SANS, size=14, color="#444444", weight="bold"),
    hoverinfo="skip",
))

fig.add_trace(go.Scatter(
    x=[LABEL_X, LABEL_X],
    y=[HEADER_Y, ECR_LABEL_Y],
    mode="text",
    text=["Human Protein Index", "ECRs"],
    textposition="middle right",
    textfont=dict(family=SANS, size=26, color="#444444"),
    hoverinfo="skip",
))

tick_vals = list(range(X_RANGE[0], X_RANGE[1] + 1, 5))
tick_text = [str(v) if v > 0 else "" for v in tick_vals]

plot_left = FRAME["left"] - AXIS_OFFSET
plot_bottom = HEIGHT - FRAME["bottom"] - AXIS_OFFSET

fig.update_layout(
    width=WIDTH,
    height=HEIGHT,
    autosize=False,
    showlegend=False,
    barmode="overlay",
    paper_bgcolor="#FFFFFF",
    plot_bgcolor="#FFFFFF",
    margin=dict(l=plot_left, r=WIDTH - FRAME["right"], t=FRAME["top"], b=plot_bottom, pad=0),
    title=dict(
        text="MPZL2",
        x=1756 / WIDTH,
        xanchor="center",
        y=1 - 14 / HEIGHT,
        yanchor="middle",
        font=dict(family=SANS, size=20, color="#000000", weight="bold"),
    ),
    xaxis=dict(
        domain=[AXIS_OFFSET / (FRAME["right"] - plot_left), 1],
        range=X_RANGE,
        anchor="free",
        position=0,
        tickmode="array",
        tickvals=tick_vals,
        ticktext=tick_text,
        ticks="outside",
        ticklen=3,
        tickcolor="#A0A0A0",
        tickfont=dict(family=SANS, size=13, color="#666666"),
        showgrid=False,
        zeroline=False,
        showline=True,
        linecolor="#A0A0A0",
        linewidth=1,
        title=dict(text="Position in the Multiple Alignment",
                   font=dict(family=SANS, size=17, color="#444444"), standoff=7),
    ),
    yaxis=dict(
        domain=[AXIS_OFFSET / (FRAME["bottom"] + AXIS_OFFSET - FRAME["top"]), 1],
        range=Y_RANGE,
        anchor="free",
        position=0,
        tick0=0,
        dtick=0.05,
        tickformat=".2f",
        ticks="outside",
        ticklen=3,
        tickcolor="#A0A0A0",
        tickfont=dict(family=SANS, size=13, color="#666666"),
        showgrid=False,
        zeroline=False,
        showline=True,
        linecolor="#A0A0A0",
        linewidth=1,
        title=dict(text="Relative Substitution Score",
                   font=dict(family=SANS, size=15, color="#444444"), standoff=6),
    ),
    shapes=[dict(type="rect", xref="x domain", yref="y domain", x0=0, x1=1, y0=0, y1=1,
                 line=dict(color="#808080", width=1.5), layer="below")],
)

fig.write_html("out.html", config=dict(displayModeBar=False),
               post_script="document.body.style.margin='0';")
